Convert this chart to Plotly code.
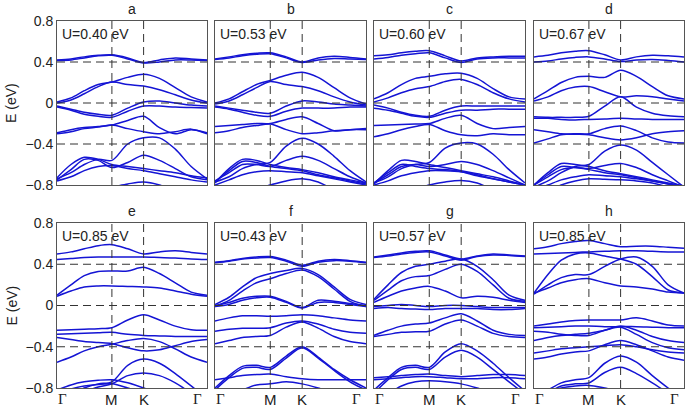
import plotly.graph_objects as go

# k-path sample positions (Γ, ..., M, ..., K, ..., Γ)
K_PATH = [0, 0.22, 0.43, 0.65, 0.866, 1.116, 1.366, 1.616, 1.866, 2.116, 2.366]
SYM_POS = [0, 0.866, 1.366, 2.366]
SYM_LABEL_POS = [0.08, 0.866, 1.366, 2.22]
SYM_LABELS = ['<span style="font-family:Liberation Serif">Γ</span>', 'M', 'K',
              '<span style="font-family:Liberation Serif">Γ</span>']
Y_TICKS = [0.8, 0.4, 0, -0.4, -0.8]
Y_TICK_TEXT = ['0.8', '0.4', '0', '−0.4', '−0.8']
H_DASH = [0.4, 0.0, -0.4]
PANEL_LETTERS = ['a', 'b', 'c', 'd', 'e', 'f', 'g', 'h']
U_LABELS = ['U=0.40 eV', 'U=0.53 eV', 'U=0.60 eV', 'U=0.67 eV',
            'U=0.85 eV', 'U=0.43 eV', 'U=0.57 eV', 'U=0.85 eV']

bands_a = [
    [0.42, 0.43, 0.45, 0.465, 0.47, 0.44, 0.395, 0.42, 0.44, 0.43, 0.42],
    [0.415, 0.42, 0.44, 0.46, 0.465, 0.43, 0.39, 0.40, 0.42, 0.42, 0.415],
    [0.01, 0.05, 0.12, 0.18, 0.205, 0.25, 0.28, 0.24, 0.15, 0.06, 0.01],
    [0.0, 0.03, 0.09, 0.16, 0.205, 0.18, 0.165, 0.13, 0.08, 0.03, 0.0],
    [-0.03, -0.06, -0.09, -0.11, -0.12, -0.05, 0.01, 0.02, 0.0, -0.02, -0.03],
    [-0.04, -0.07, -0.11, -0.13, -0.14, -0.08, -0.03, -0.03, -0.04, -0.045, -0.05],
    [-0.29, -0.26, -0.24, -0.23, -0.215, -0.17, -0.13, -0.24, -0.30, -0.26, -0.29],
    [-0.30, -0.28, -0.25, -0.235, -0.215, -0.25, -0.28, -0.30, -0.28, -0.255, -0.30],
    [-0.74, -0.68, -0.6, -0.55, -0.56, -0.4, -0.34, -0.34, -0.45, -0.62, -0.74],
    [-0.73, -0.6, -0.53, -0.55, -0.6, -0.62, -0.64, -0.66, -0.68, -0.71, -0.73],
    [-0.75, -0.65, -0.55, -0.56, -0.63, -0.58, -0.51, -0.56, -0.64, -0.72, -0.75],
    [-0.76, -0.72, -0.66, -0.62, -0.61, -0.64, -0.66, -0.69, -0.72, -0.75, -0.77],
    [-0.9, -0.88, -0.86, -0.84, -0.82, -0.79, -0.77, -0.80, -0.86, -0.9, -0.92],
]
bands_b = [
    [0.43, 0.45, 0.47, 0.485, 0.49, 0.45, 0.40, 0.44, 0.455, 0.445, 0.43],
    [0.425, 0.44, 0.46, 0.475, 0.48, 0.44, 0.395, 0.42, 0.435, 0.43, 0.425],
    [0.0, 0.04, 0.11, 0.18, 0.22, 0.27, 0.30, 0.25, 0.15, 0.05, -0.01],
    [-0.01, 0.02, 0.08, 0.15, 0.21, 0.18, 0.16, 0.12, 0.06, 0.01, -0.02],
    [-0.03, -0.05, -0.07, -0.09, -0.10, -0.03, 0.02, 0.01, -0.01, -0.02, -0.03],
    [-0.04, -0.06, -0.09, -0.12, -0.13, -0.08, -0.05, -0.05, -0.05, -0.04, -0.04],
    [-0.23, -0.22, -0.21, -0.2, -0.2, -0.16, -0.135, -0.2, -0.27, -0.26, -0.25],
    [-0.29, -0.27, -0.24, -0.22, -0.205, -0.26, -0.30, -0.29, -0.27, -0.26, -0.26],
    [-0.77, -0.72, -0.64, -0.6, -0.58, -0.42, -0.345, -0.4, -0.52, -0.66, -0.77],
    [-0.76, -0.68, -0.6, -0.6, -0.62, -0.56, -0.52, -0.56, -0.64, -0.72, -0.78],
    [-0.78, -0.64, -0.55, -0.56, -0.6, -0.63, -0.65, -0.68, -0.72, -0.75, -0.78],
    [-0.77, -0.66, -0.57, -0.58, -0.62, -0.64, -0.66, -0.7, -0.73, -0.76, -0.79],
    [-0.8, -0.75, -0.7, -0.67, -0.66, -0.67, -0.68, -0.71, -0.74, -0.77, -0.8],
    [-0.95, -0.92, -0.88, -0.84, -0.8, -0.76, -0.74, -0.77, -0.85, -0.92, -0.95],
]
bands_c = [
    [0.46, 0.47, 0.49, 0.505, 0.51, 0.46, 0.41, 0.44, 0.45, 0.455, 0.455],
    [0.43, 0.445, 0.465, 0.48, 0.49, 0.44, 0.395, 0.43, 0.44, 0.44, 0.44],
    [0.04, 0.1, 0.18, 0.24, 0.26, 0.285, 0.29, 0.24, 0.14, 0.06, 0.04],
    [0.01, 0.05, 0.1, 0.14, 0.16, 0.21, 0.23, 0.18, 0.1, 0.04, 0.01],
    [-0.02, -0.05, -0.09, -0.12, -0.13, -0.07, -0.03, -0.03, -0.03, -0.03, -0.03],
    [-0.05, -0.07, -0.1, -0.13, -0.14, -0.1, -0.07, -0.07, -0.06, -0.06, -0.06],
    [-0.22, -0.215, -0.21, -0.205, -0.2, -0.15, -0.12, -0.2, -0.25, -0.24, -0.23],
    [-0.33, -0.3, -0.26, -0.23, -0.21, -0.27, -0.31, -0.32, -0.3, -0.31, -0.31],
    [-0.78, -0.72, -0.64, -0.6, -0.58, -0.44, -0.39, -0.4, -0.5, -0.65, -0.78],
    [-0.78, -0.7, -0.62, -0.6, -0.62, -0.6, -0.57, -0.6, -0.66, -0.73, -0.8],
    [-0.79, -0.66, -0.56, -0.57, -0.6, -0.63, -0.66, -0.69, -0.72, -0.76, -0.8],
    [-0.78, -0.68, -0.6, -0.62, -0.64, -0.65, -0.67, -0.71, -0.74, -0.77, -0.8],
    [-0.8, -0.76, -0.71, -0.68, -0.66, -0.66, -0.67, -0.7, -0.74, -0.77, -0.8],
    [-0.95, -0.92, -0.88, -0.84, -0.8, -0.77, -0.755, -0.78, -0.85, -0.92, -0.95],
]
bands_d = [
    [0.45, 0.465, 0.49, 0.505, 0.51, 0.47, 0.42, 0.45, 0.465, 0.46, 0.45],
    [0.4, 0.41, 0.43, 0.445, 0.45, 0.43, 0.405, 0.42, 0.425, 0.415, 0.4],
    [0.04, 0.12, 0.2, 0.25, 0.26, 0.25, 0.32, 0.26, 0.16, 0.07, 0.04],
    [0.02, 0.06, 0.12, 0.155, 0.16, 0.11, 0.06, 0.07, 0.06, 0.04, 0.02],
    [-0.135, -0.14, -0.14, -0.14, -0.13, -0.03, 0.06, -0.04, -0.1, -0.125, -0.135],
    [-0.15, -0.15, -0.16, -0.165, -0.16, -0.155, -0.15, -0.155, -0.16, -0.16, -0.16],
    [-0.26, -0.28, -0.3, -0.305, -0.31, -0.34, -0.36, -0.34, -0.3, -0.28, -0.27],
    [-0.39, -0.35, -0.31, -0.3, -0.3, -0.25, -0.225, -0.27, -0.34, -0.38, -0.39],
    [-0.82, -0.76, -0.68, -0.62, -0.6, -0.47, -0.41, -0.46, -0.58, -0.7, -0.82],
    [-0.8, -0.72, -0.65, -0.63, -0.64, -0.61, -0.59, -0.63, -0.7, -0.76, -0.82],
    [-0.8, -0.68, -0.59, -0.6, -0.62, -0.66, -0.69, -0.72, -0.75, -0.78, -0.81],
    [-0.8, -0.7, -0.62, -0.63, -0.65, -0.68, -0.7, -0.73, -0.76, -0.79, -0.82],
    [-0.85, -0.8, -0.75, -0.72, -0.7, -0.71, -0.72, -0.74, -0.76, -0.79, -0.82],
    [-0.9, -0.86, -0.8, -0.76, -0.74, -0.745, -0.75, -0.76, -0.78, -0.82, -0.86],
]
bands_e = [
    [0.5, 0.52, 0.55, 0.58, 0.59, 0.55, 0.5, 0.52, 0.53, 0.515, 0.5],
    [0.445, 0.455, 0.465, 0.47, 0.47, 0.47, 0.47, 0.465, 0.46, 0.45, 0.445],
    [0.1, 0.2, 0.29, 0.33, 0.335, 0.335, 0.37, 0.31, 0.22, 0.13, 0.1],
    [0.09, 0.14, 0.18, 0.19, 0.19, 0.185, 0.18, 0.17, 0.14, 0.11, 0.09],
    [-0.24, -0.235, -0.23, -0.225, -0.215, -0.14, -0.09, -0.14, -0.2, -0.235, -0.24],
    [-0.28, -0.275, -0.27, -0.265, -0.26, -0.28, -0.29, -0.295, -0.3, -0.3, -0.3],
    [-0.31, -0.33, -0.35, -0.36, -0.37, -0.41, -0.44, -0.43, -0.39, -0.35, -0.33],
    [-0.55, -0.5, -0.44, -0.4, -0.375, -0.34, -0.32, -0.35, -0.42, -0.5, -0.55],
    [-0.92, -0.86, -0.8, -0.76, -0.74, -0.58, -0.52, -0.56, -0.66, -0.78, -0.9],
    [-0.95, -0.9, -0.84, -0.79, -0.76, -0.68, -0.655, -0.68, -0.75, -0.85, -0.95],
    [-0.82, -0.77, -0.74, -0.725, -0.72, -0.75, -0.8, -0.86, -0.92, -0.96, -1.0],
    [-0.86, -0.81, -0.78, -0.765, -0.76, -0.8, -0.85, -0.9, -0.95, -1.0, -1.0],
]
bands_f = [
    [0.42, 0.435, 0.455, 0.47, 0.475, 0.44, 0.39, 0.43, 0.445, 0.435, 0.42],
    [0.415, 0.43, 0.45, 0.46, 0.465, 0.43, 0.38, 0.42, 0.435, 0.43, 0.415],
    [0.01, 0.08, 0.18, 0.27, 0.31, 0.34, 0.36, 0.3, 0.18, 0.06, 0.01],
    [-0.01, 0.05, 0.14, 0.22, 0.26, 0.31, 0.345, 0.28, 0.16, 0.04, -0.01],
    [0.0, 0.03, 0.07, 0.09, 0.09, 0.04, -0.02, 0.05, 0.04, 0.02, 0.0],
    [-0.01, 0.01, 0.05, 0.075, 0.08, 0.03, -0.025, 0.03, 0.03, 0.01, -0.01],
    [-0.15, -0.12, -0.1, -0.1, -0.105, -0.1, -0.09, -0.1, -0.12, -0.14, -0.15],
    [-0.25, -0.23, -0.22, -0.22, -0.215, -0.17, -0.15, -0.18, -0.23, -0.26, -0.27],
    [-0.37, -0.34, -0.31, -0.3, -0.29, -0.21, -0.16, -0.22, -0.3, -0.35, -0.37],
    [-0.8, -0.68, -0.59, -0.58, -0.6, -0.49, -0.4, -0.5, -0.62, -0.72, -0.8],
    [-0.82, -0.7, -0.61, -0.6, -0.62, -0.51, -0.41, -0.51, -0.63, -0.74, -0.82],
    [-0.72, -0.7, -0.68, -0.67, -0.665, -0.69, -0.71, -0.72, -0.72, -0.72, -0.72],
    [-0.95, -0.88, -0.82, -0.77, -0.76, -0.74, -0.76, -0.8, -0.85, -0.9, -0.95],
]
bands_g = [
    [0.47, 0.49, 0.51, 0.525, 0.53, 0.49, 0.45, 0.48, 0.5, 0.49, 0.48],
    [0.465, 0.48, 0.5, 0.515, 0.52, 0.48, 0.44, 0.475, 0.49, 0.485, 0.475],
    [0.06, 0.2, 0.32, 0.38, 0.4, 0.43, 0.45, 0.38, 0.25, 0.1, 0.05],
    [0.05, 0.15, 0.24, 0.28, 0.29, 0.35, 0.40, 0.33, 0.2, 0.07, 0.04],
    [0.03, 0.09, 0.14, 0.17, 0.185, 0.14, 0.075, 0.09, 0.08, 0.05, 0.03],
    [-0.01, 0.0, 0.01, 0.0, -0.01, 0.0, 0.0, -0.01, -0.02, -0.02, -0.02],
    [-0.03, -0.02, -0.03, -0.035, -0.04, -0.03, -0.03, -0.03, -0.04, -0.04, -0.03],
    [-0.29, -0.24, -0.2, -0.18, -0.17, -0.12, -0.08, -0.15, -0.24, -0.28, -0.29],
    [-0.3, -0.28, -0.26, -0.255, -0.25, -0.18, -0.14, -0.2, -0.27, -0.3, -0.31],
    [-0.82, -0.7, -0.6, -0.58, -0.6, -0.45, -0.37, -0.44, -0.56, -0.7, -0.83],
    [-0.85, -0.72, -0.62, -0.6, -0.62, -0.5, -0.435, -0.5, -0.62, -0.74, -0.86],
    [-0.7, -0.69, -0.68, -0.67, -0.665, -0.68, -0.69, -0.68, -0.67, -0.67, -0.68],
    [-0.72, -0.71, -0.7, -0.69, -0.69, -0.7, -0.71, -0.71, -0.7, -0.7, -0.71],
    [-0.95, -0.86, -0.78, -0.74, -0.73, -0.74, -0.76, -0.8, -0.85, -0.9, -0.95],
]
bands_h = [
    [0.55, 0.57, 0.6, 0.62, 0.63, 0.6, 0.57, 0.575, 0.575, 0.565, 0.555],
    [0.5, 0.505, 0.51, 0.515, 0.52, 0.525, 0.53, 0.53, 0.525, 0.52, 0.52],
    [0.12, 0.3, 0.44, 0.5, 0.51, 0.48, 0.45, 0.4, 0.28, 0.15, 0.12],
    [0.11, 0.2, 0.27, 0.3, 0.3, 0.38, 0.45, 0.47, 0.38, 0.2, 0.12],
    [0.12, 0.17, 0.22, 0.25, 0.26, 0.22, 0.19, 0.18, 0.16, 0.13, 0.12],
    [-0.2, -0.18, -0.16, -0.145, -0.14, -0.14, -0.14, -0.12, -0.15, -0.19, -0.2],
    [-0.215, -0.21, -0.205, -0.2, -0.2, -0.205, -0.205, -0.205, -0.21, -0.215, -0.215],
    [-0.25, -0.26, -0.28, -0.29, -0.29, -0.24, -0.2, -0.24, -0.3, -0.34, -0.36],
    [-0.34, -0.31, -0.29, -0.28, -0.27, -0.24, -0.21, -0.28, -0.36, -0.41, -0.43],
    [-0.46, -0.44, -0.42, -0.41, -0.4, -0.39, -0.38, -0.4, -0.43, -0.45, -0.46],
    [-0.52, -0.5, -0.47, -0.45, -0.44, -0.38, -0.34, -0.38, -0.44, -0.5, -0.53],
    [-0.9, -0.82, -0.75, -0.72, -0.7, -0.56, -0.49, -0.55, -0.68, -0.8, -0.9],
    [-0.95, -0.85, -0.78, -0.76, -0.75, -0.65, -0.6, -0.66, -0.75, -0.85, -0.95],
    [-0.95, -0.85, -0.8, -0.78, -0.775, -0.8, -0.84, -0.88, -0.92, -0.95, -1.0],
]
ALL_BANDS = [bands_a, bands_b, bands_c, bands_d, bands_e, bands_f, bands_g, bands_h]

# ---- layout geometry (pixels of a 685x410 canvas) ----
W, H = 685, 410
COL_PX = [(57, 207), (215, 366), (374, 525), (534, 684)]
ROW_PX = [(21, 185), (223, 388)]
BLUE = '#1414d4'
FRAME = '#555555'
DASH = '#333333'
FONT = 'Liberation Sans, Arial, sans-serif'

fig = go.Figure()
layout = dict(width=W, height=H, autosize=False,
              margin=dict(l=0, r=0, t=0, b=0, pad=0, autoexpand=False),
              paper_bgcolor='white', plot_bgcolor='white', showlegend=False,
              font=dict(family=FONT, size=14, color='#222'))
shapes = []
annotations = []

for i, bands in enumerate(ALL_BANDS):
    row, col = divmod(i, 4)
    n = i + 1
    xa = 'x' if n == 1 else f'x{n}'
    ya = 'y' if n == 1 else f'y{n}'
    for b in bands:
        fig.add_trace(go.Scatter(x=K_PATH, y=b, mode='lines', xaxis=xa, yaxis=ya,
                                 line=dict(color=BLUE, width=1.5, shape='spline', smoothing=0.9),
                                 hoverinfo='skip'))
    x0, x1 = COL_PX[col]
    t, bt = ROW_PX[row]
    layout[f'xaxis{n}'] = dict(domain=[x0 / W, x1 / W], range=[0, SYM_POS[-1]], anchor=ya,
                               showline=True, mirror=True, linecolor=FRAME, linewidth=1,
                               showgrid=False, zeroline=False, ticks='',
                               showticklabels=False)
    layout[f'yaxis{n}'] = dict(domain=[1 - bt / H, 1 - t / H], range=[-0.8, 0.8], anchor=xa,
                               showline=True, mirror=True, linecolor=FRAME, linewidth=1,
                               showgrid=False, zeroline=False, ticks='',
                               tickvals=Y_TICKS, ticktext=Y_TICK_TEXT,
                               showticklabels=(col == 0), tickfont=dict(size=14, color='#222'))
    for yv in H_DASH:
        shapes.append(dict(type='line', xref=xa, yref=ya, x0=0, x1=SYM_POS[-1], y0=yv, y1=yv,
                           line=dict(color=DASH, width=1, dash='8px,5px'), layer='above'))
    for xv in SYM_POS[1:3]:
        shapes.append(dict(type='line', xref=xa, yref=ya, x0=xv, x1=xv, y0=-0.8, y1=0.8,
                           line=dict(color=DASH, width=1, dash='8px,5px'), layer='above'))
    if row == 1:
        for pos, lab in zip(SYM_LABEL_POS, SYM_LABELS):
            annotations.append(dict(text=lab, xref=xa, yref='paper', x=pos,
                                    y=1 - (bt + 11) / H, showarrow=False,
                                    xanchor='center', yanchor='middle',
                                    font=dict(size=15, color='#222')))
    annotations.append(dict(text=PANEL_LETTERS[i], xref='paper', yref='paper',
                            x=(x0 + x1) / 2 / W, y=1 - (t - 12) / H, showarrow=False,
                            xanchor='center', yanchor='middle', font=dict(size=14, color='#222')))
    annotations.append(dict(text=U_LABELS[i], xref='paper', yref='paper',
                            x=(x0 + 3) / W, y=1 - (t + 13) / H, showarrow=False,
                            xanchor='left', yanchor='middle', font=dict(size=14, color='#222')))

for t, bt in ROW_PX:
    annotations.append(dict(text='E (eV)', xref='paper', yref='paper', x=11 / W,
                            y=1 - ((t + bt) / 2) / H, showarrow=False, textangle=-90,
                            xanchor='center', yanchor='middle', font=dict(size=14, color='#222')))

layout['shapes'] = shapes
layout['annotations'] = annotations
fig.update_layout(**layout)
fig.write_html('out.html',
               config={'displayModeBar': False, 'responsive': False},
               post_script="document.body.style.margin='0px';document.body.style.overflow='hidden';")
